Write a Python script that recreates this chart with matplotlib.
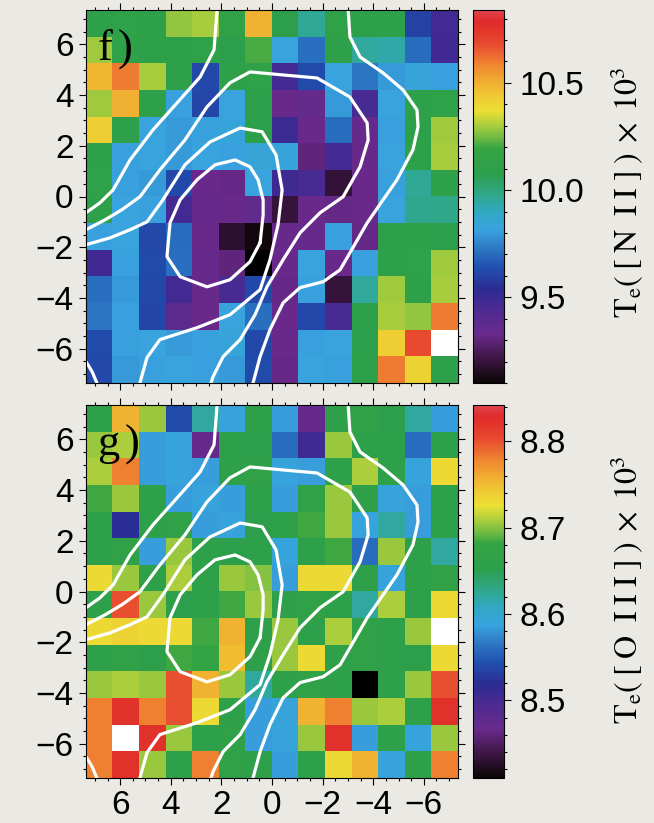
import numpy as np
import matplotlib.pyplot as plt
from matplotlib.colors import LinearSegmentedColormap

plt.rcParams['font.family'] = ['Liberation Sans', 'DejaVu Sans']
plt.rcParams['mathtext.fontset'] = 'stix'

# map extent in arcsec (14 x 14 spaxels)
half = 7.35

# Te([N II]) in units of 10^3 K, rows from north (top) to south
te_nii = [
    [10.11, 10.12, 10.10, 10.28, 10.30, 10.13, 10.49, 10.09, 9.96, 10.12, 10.10, 10.11, 9.60, 9.47],
    [10.29, 10.12, 10.11, 10.10, 10.12, 10.09, 10.21, 9.82, 9.71, 10.10, 9.95, 9.93, 9.70, 9.48],
    [10.48, 10.60, 10.30, 10.11, 9.62, 10.10, 10.12, 9.47, 9.63, 9.82, 9.72, 9.80, 9.83, 9.81],
    [10.29, 10.50, 10.10, 9.81, 9.61, 9.82, 10.09, 9.33, 9.35, 9.80, 9.46, 9.82, 10.10, 10.12],
    [10.42, 10.11, 9.82, 9.80, 9.81, 9.83, 10.08, 9.49, 9.33, 9.70, 9.34, 9.81, 10.11, 10.29],
    [10.10, 9.81, 9.82, 9.80, 9.82, 9.81, 9.84, 9.83, 9.30, 9.47, 9.33, 9.82, 10.10, 10.30],
    [10.12, 9.81, 9.80, 9.62, 9.33, 9.32, 9.82, 9.48, 9.46, 9.19, 9.33, 9.81, 9.96, 10.10],
    [10.10, 9.82, 9.81, 9.47, 9.34, 9.33, 9.36, 9.20, 9.33, 9.32, 9.33, 9.82, 9.97, 9.98],
    [9.81, 9.82, 9.62, 9.70, 9.33, 9.18, 9.12, 9.33, 9.34, 9.81, 9.32, 10.10, 10.11, 10.09],
    [9.48, 9.81, 9.63, 9.71, 9.34, 9.30, 9.09, 9.33, 9.82, 9.33, 9.81, 10.10, 10.12, 10.29],
    [9.71, 9.80, 9.62, 9.47, 9.33, 9.46, 9.62, 9.32, 9.81, 9.20, 9.95, 10.29, 10.11, 10.30],
    [9.72, 9.81, 9.61, 9.38, 9.33, 9.82, 9.71, 9.33, 9.62, 9.46, 10.10, 10.30, 10.28, 10.60],
    [9.63, 9.81, 9.82, 9.80, 9.81, 9.83, 9.62, 9.33, 9.81, 9.82, 10.09, 10.42, 10.68, 10.95],
    [9.62, 9.80, 9.81, 9.82, 9.81, 9.80, 9.63, 9.32, 9.82, 9.81, 10.10, 10.60, 10.41, 10.11],
]

# Te([O III]) in units of 10^3 K
te_oiii = [
    [8.660, 8.755, 8.705, 8.540, 8.620, 8.590, 8.660, 8.585, 8.470, 8.660, 8.665, 8.655, 8.620, 8.585],
    [8.705, 8.710, 8.585, 8.590, 8.470, 8.660, 8.655, 8.560, 8.505, 8.705, 8.660, 8.660, 8.560, 8.660],
    [8.710, 8.780, 8.585, 8.590, 8.585, 8.660, 8.665, 8.590, 8.585, 8.660, 8.710, 8.660, 8.590, 8.730],
    [8.685, 8.705, 8.660, 8.585, 8.590, 8.585, 8.660, 8.585, 8.665, 8.705, 8.660, 8.590, 8.585, 8.660],
    [8.660, 8.520, 8.660, 8.665, 8.585, 8.590, 8.655, 8.660, 8.685, 8.705, 8.590, 8.620, 8.585, 8.660],
    [8.660, 8.665, 8.585, 8.705, 8.660, 8.655, 8.660, 8.590, 8.660, 8.685, 8.560, 8.705, 8.660, 8.620],
    [8.730, 8.705, 8.660, 8.710, 8.660, 8.705, 8.700, 8.585, 8.730, 8.730, 8.660, 8.590, 8.660, 8.665],
    [8.660, 8.800, 8.705, 8.655, 8.660, 8.685, 8.705, 8.660, 8.665, 8.660, 8.620, 8.710, 8.660, 8.730],
    [8.730, 8.735, 8.730, 8.730, 8.685, 8.755, 8.660, 8.705, 8.660, 8.710, 8.665, 8.660, 8.705, 8.860],
    [8.660, 8.665, 8.655, 8.685, 8.680, 8.750, 8.660, 8.705, 8.730, 8.660, 8.665, 8.660, 8.655, 8.730],
    [8.705, 8.710, 8.705, 8.800, 8.755, 8.705, 8.620, 8.660, 8.665, 8.660, 8.400, 8.660, 8.705, 8.800],
    [8.780, 8.823, 8.780, 8.800, 8.730, 8.660, 8.585, 8.590, 8.755, 8.780, 8.705, 8.710, 8.660, 8.823],
    [8.780, 8.860, 8.823, 8.705, 8.660, 8.665, 8.585, 8.590, 8.705, 8.823, 8.585, 8.660, 8.590, 8.705],
    [8.780, 8.823, 8.705, 8.660, 8.780, 8.665, 8.660, 8.585, 8.660, 8.730, 8.755, 8.590, 8.660, 8.780],
]

nii_range = (9.10, 10.84)
oiii_range = (8.41, 8.842)

# H-alpha flux contours (arcsec), same in both panels
c1a_x = [2.16, 2.17, 2.29, 2.84, 3.75, 4.70, 5.61, 6.28, 6.80, 7.35, 7.50]
c1a_y = [7.60, 7.35, 5.78, 4.71, 3.69, 2.63, 1.44, 0.26, -0.25, -0.64, -0.75]
c1b_x = [-3.00, -3.01, -3.08, -3.48, -4.39, -5.18, -5.73, -5.77, -5.57, -4.94, -4.39,
         -3.76, -3.08, -2.69, -2.02, -1.11, -0.44, 0.08, 0.47, 0.75, 0.80]
c1b_y = [7.60, 7.35, 6.29, 5.50, 4.87, 4.20, 3.41, 2.74, 1.84, 0.66, -0.13,
         -1.04, -2.22, -2.89, -3.36, -3.59, -4.19, -5.25, -6.31, -7.35, -7.60]
c1c_x = [7.50, 7.35, 7.11, 6.92, 6.88]
c1c_y = [-6.40, -6.51, -6.90, -7.35, -7.60]
c2_x = [7.50, 7.35, 6.60, 5.93, 5.22, 4.43, 3.44, 2.57, 1.66, 0.87, -0.44, -1.78, -3.08,
        -3.76, -3.80, -3.48, -2.81, -1.90, -1.11, -0.44, 0.20, 0.67, 1.26, 1.93, 2.33, 2.41, 2.45]
c2_y = [-1.37, -1.31, -0.92, -0.52, -0.01, 1.05, 2.23, 3.53, 4.48, 4.91, 4.79, 4.67, 3.92,
        2.90, 2.23, 1.17, -0.01, -0.64, -1.43, -2.49, -3.56, -4.66, -5.64, -6.31, -7.10, -7.35, -7.60]
c3_x = [7.50, 7.35, 6.40, 5.61, 4.94, 4.31, 3.44, 2.45, 1.26, 0.39, -0.16, -0.40, -0.24,
        0.08, 0.47, 1.66, 2.96, 4.43, 4.94, 5.22, 5.26]
c3_y = [-1.96, -1.90, -1.63, -1.31, -1.00, -0.13, 1.25, 2.15, 2.70, 2.55, 1.64, 0.26, -1.11,
        -2.49, -3.67, -4.66, -5.17, -5.64, -6.35, -7.35, -7.60]
c4_x = [0.47, 0.35, 0.35, 0.55, 0.87, 1.46, 2.25, 2.96, 3.63, 4.03, 4.15, 3.63, 2.57, 1.66, 0.87, 0.47]
c4_y = [-1.82, -0.72, -0.13, 0.66, 1.17, 1.44, 1.25, 0.66, -0.13, -1.04, -2.37, -3.16, -3.56, -3.28, -2.57, -1.82]
contour_lines = [(c1a_x, c1a_y), (c1b_x, c1b_y), (c1c_x, c1c_y),
                 (c2_x, c2_y), (c3_x, c3_y), (c4_x, c4_y)]

ticks = [6, 4, 2, 0, -2, -4, -6]

# IDL-style rainbow with black floor
stops = [0.0, 0.06, 0.13, 0.20, 0.25, 0.31, 0.37, 0.41, 0.455, 0.50, 0.56, 0.63, 0.67,
         0.73, 0.785, 0.85, 0.91, 0.97, 1.0]
colours = ['#0c0606', '#3a1540', '#6a2a8c', '#4a2a92', '#2c2c92', '#2050b0', '#2f80c8',
           '#39a3df', '#31a8c4', '#30a890', '#2c9f4c', '#35a443', '#85c242', '#ebe034',
           '#f1c032', '#f08a30', '#e84a30', '#e02a2a', '#e04450']
cmap = LinearSegmentedColormap.from_list('te_rainbow', list(zip(stops, colours)))
cmap.set_over('white')
cmap.set_under('black')

bg = '#eae9e4'
fig = plt.figure(figsize=(6.54, 8.23), dpi=100, facecolor=bg)

W, H = 654.0, 823.0


def box(x0, y0, x1, y1):
    return [x0 / W, 1 - y1 / H, (x1 - x0) / W, (y1 - y0) / H]


label_font = ['Liberation Serif', 'DejaVu Serif']
panels = [
    (te_nii, nii_range, r'f$\,$)', [9.5, 10.0, 10.5], 0.1,
     r'$\mathrm{T_e(\;[\;N\ \;I\;I\;]\;)\;\times\;10^3}$', 10, 383, 192),
    (te_oiii, oiii_range, r'g$\,$)', [8.5, 8.6, 8.7, 8.8], 0.02,
     r'$\mathrm{T_e(\;[\;O\ \;I\;I\;I\;]\;)\;\times\;10^3}$', 405, 778, 590),
]

for k, (grid, (vmin, vmax), tag, cticks, cminor, clabel, top, bottom, lab_y) in enumerate(panels):
    ax = fig.add_axes(box(86, top, 458, bottom))
    im = ax.imshow(np.array(grid), cmap=cmap, vmin=vmin, vmax=vmax,
                   extent=[half, -half, -half, half], origin='upper',
                   interpolation='nearest', aspect='auto')
    for cx, cy in contour_lines:
        ax.plot(cx, cy, color='white', lw=2.3, solid_capstyle='round',
                solid_joinstyle='round')
    ax.set_xlim(half, -half)
    ax.set_ylim(-half, half)
    ax.set_xticks(ticks)
    ax.set_yticks(ticks)
    ax.set_xticks(np.arange(-7, 7.5, 0.5), minor=True)
    ax.set_yticks(np.arange(-7, 7.5, 0.5), minor=True)
    ax.tick_params(which='both', direction='out', top=True, right=True,
                   labelsize=24, pad=4, width=0.8)
    ax.tick_params(which='major', length=5)
    ax.tick_params(which='minor', length=2.5)
    if k == 0:
        ax.tick_params(labelbottom=False)
    ax.text(0.03, 0.955, tag, transform=ax.transAxes, ha='left', va='top',
            fontsize=32, family=label_font)

    cax = fig.add_axes(box(473, top, 504, bottom))
    cb = fig.colorbar(im, cax=cax)
    cb.outline.set_linewidth(0.8)
    cb.set_ticks(cticks)
    cb.ax.yaxis.set_major_formatter(plt.FormatStrFormatter('%.1f'))
    cb.ax.yaxis.set_minor_locator(plt.MultipleLocator(cminor))
    cb.ax.tick_params(which='both', direction='out', labelsize=24, pad=6, width=0.8)
    cb.ax.tick_params(which='major', length=5)
    cb.ax.tick_params(which='minor', length=2.5)
    fig.text(627 / W, 1 - lab_y / H, clabel, rotation=90, ha='center', va='center',
             fontsize=23)

fig.savefig('out.png', dpi=100, facecolor=bg)
